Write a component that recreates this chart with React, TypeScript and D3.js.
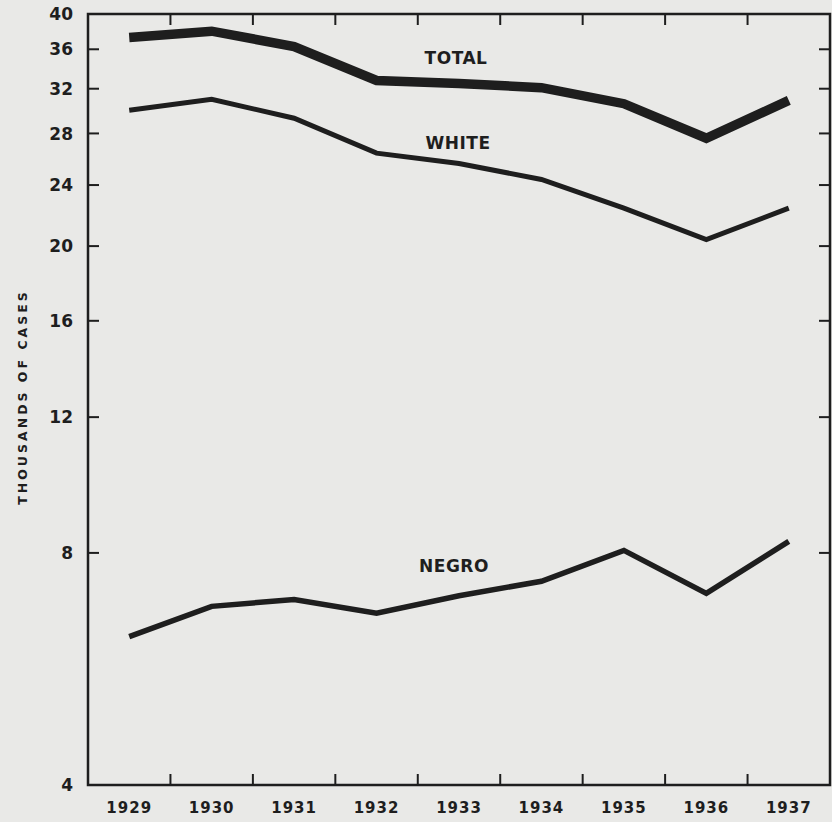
import React from "react";
import * as d3 from "d3";

const years = ["1929", "1930", "1931", "1932", "1933", "1934", "1935", "1936", "1937"];
const totalCases = [37.3, 38.0, 36.3, 32.8, 32.5, 32.1, 30.6, 27.6, 30.9];
const whiteCases = [30.0, 31.0, 29.3, 26.4, 25.6, 24.4, 22.4, 20.4, 22.4];
const negroCases = [6.23, 6.82, 6.96, 6.68, 7.04, 7.35, 8.06, 7.09, 8.28];
const yTicks = [4, 8, 12, 16, 20, 24, 28, 32, 36, 40];

const W = 832;
const H = 822;
const left = 88;
const right = 830;
const top = 14;
const bottom = 785;
const ink = "#1e1e1e";
const font = "'DejaVu Sans', 'Liberation Sans', sans-serif";

export default function App() {
  const x = d3.scaleBand<string>().domain(years).range([left, right]).paddingInner(0).paddingOuter(0);
  const y = d3.scaleLog().domain([4, 40]).range([bottom, top]);
  const cx = (yr: string) => (x(yr) as number) + x.bandwidth() / 2;
  const line = d3
    .line<number>()
    .x((_, i) => cx(years[i]))
    .y((v) => y(v));

  const boundaries = years.slice(1).map((yr) => x(yr) as number);

  return (
    <svg
      width={W}
      height={H}
      style={{ position: "absolute", left: 0, top: 0, background: "#e9e9e7", display: "block" }}
    >
      <rect x={0} y={0} width={W} height={H} fill="#e9e9e7" />
      {/* frame */}
      <rect x={left} y={top} width={right - left} height={bottom - top} fill="none" stroke={ink} strokeWidth={2.5} />
      {/* left & right ticks */}
      {yTicks.slice(1, -1).map((t) => (
        <g key={t}>
          <line x1={left} x2={left + 11} y1={y(t)} y2={y(t)} stroke={ink} strokeWidth={2} />
          <line x1={right - 11} x2={right} y1={y(t)} y2={y(t)} stroke={ink} strokeWidth={2} />
        </g>
      ))}
      {/* y labels */}
      {yTicks.map((t) => (
        <text
          key={t}
          x={73}
          y={y(t)}
          dy="0.36em"
          textAnchor="end"
          fontFamily={font}
          fontSize={17}
          fontWeight="bold"
          fill={ink}
        >
          {t}
        </text>
      ))}
      {/* top & bottom ticks */}
      {boundaries.map((b, i) => (
        <g key={i}>
          <line x1={b} x2={b} y1={top} y2={top + 11} stroke={ink} strokeWidth={2} />
          <line x1={b} x2={b} y1={bottom - 11} y2={bottom} stroke={ink} strokeWidth={2} />
        </g>
      ))}
      {/* x labels */}
      {years.map((yr) => (
        <text
          key={yr}
          x={cx(yr)}
          y={808}
          dy="0.36em"
          textAnchor="middle"
          fontFamily={font}
          fontSize={15}
          fontWeight="bold"
          letterSpacing={1}
          fill={ink}
        >
          {yr}
        </text>
      ))}
      {/* y title */}
      <text
        transform={`translate(22, 397) rotate(-90)`}
        textAnchor="middle"
        dy="0.36em"
        fontFamily={font}
        fontSize={12.5}
        fontWeight="bold"
        letterSpacing={3}
        fill={ink}
      >
        THOUSANDS OF CASES
      </text>
      {/* series */}
      <path d={line(totalCases) as string} fill="none" stroke={ink} strokeWidth={9.5} strokeLinejoin="miter" />
      <path d={line(whiteCases) as string} fill="none" stroke={ink} strokeWidth={5} strokeLinejoin="miter" />
      <path d={line(negroCases) as string} fill="none" stroke={ink} strokeWidth={5.5} strokeLinejoin="miter" />
      {/* series labels */}
      <text x={456} y={58} dy="0.36em" textAnchor="middle" fontFamily={font} fontSize={17} fontWeight="bold" letterSpacing={0.5} fill={ink}>
        TOTAL
      </text>
      <text x={458} y={143} dy="0.36em" textAnchor="middle" fontFamily={font} fontSize={17} fontWeight="bold" letterSpacing={0.5} fill={ink}>
        WHITE
      </text>
      <text x={454} y={566} dy="0.36em" textAnchor="middle" fontFamily={font} fontSize={17} fontWeight="bold" letterSpacing={0.5} fill={ink}>
        NEGRO
      </text>
    </svg>
  );
}
